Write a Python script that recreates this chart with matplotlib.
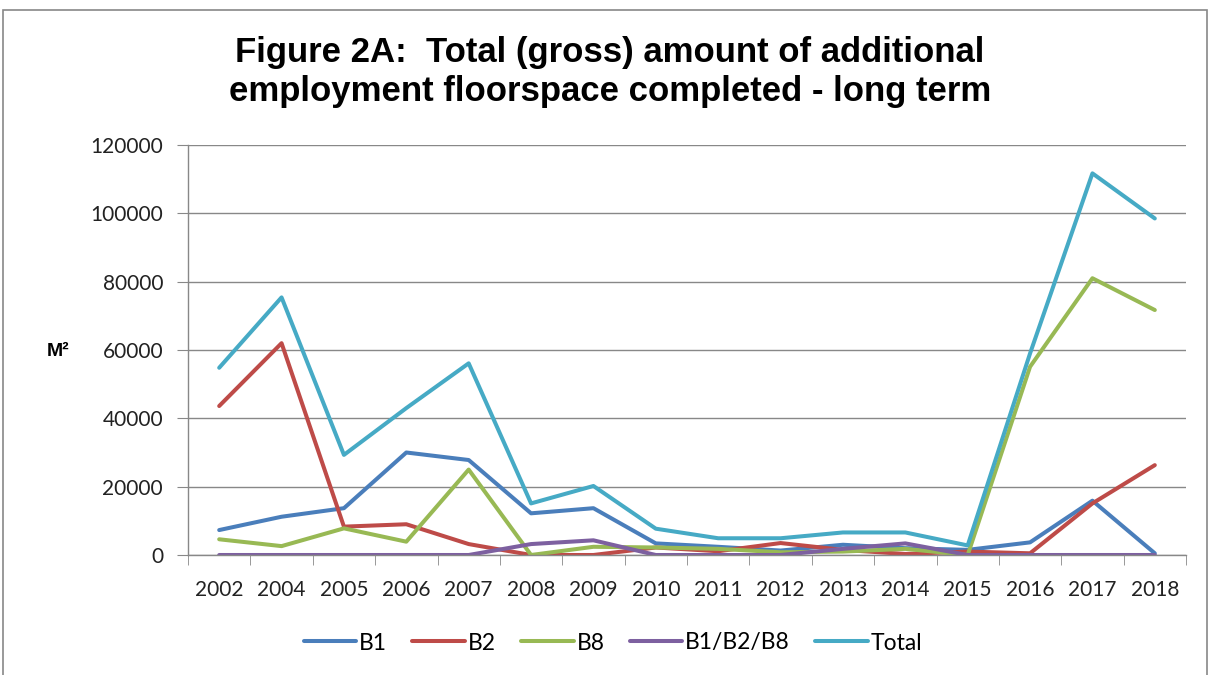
import numpy as np
import matplotlib
matplotlib.use('Agg')
import matplotlib.pyplot as plt
from matplotlib.patches import Rectangle

# data (m2)
years = ['2002', '2004', '2005', '2006', '2007', '2008', '2009', '2010',
         '2011', '2012', '2013', '2014', '2015', '2016', '2017', '2018']
b1 = [7300, 11200, 13700, 30000, 27800, 12200, 13700, 3400,
      2400, 1300, 3000, 2000, 1500, 3700, 15900, 500]
b2 = [43600, 62000, 8300, 9000, 3200, 0, 0, 2200,
      1100, 3500, 1500, 300, 1000, 500, 15100, 26300]
b8 = [4600, 2600, 7800, 3900, 25000, 0, 2400, 2200,
      1800, 800, 1000, 1800, 0, 55100, 81000, 71700]
b128 = [0, 0, 0, 0, 0, 3200, 4300, 0,
        0, 0, 1800, 3400, 0, 0, 0, 0]
total = [54800, 75400, 29300, 43000, 56100, 15100, 20200, 7700,
         4900, 4900, 6600, 6600, 2800, 59000, 111700, 98500]

series = [('B1', b1, '#4A7EBB'),
          ('B2', b2, '#BE4B48'),
          ('B8', b8, '#98B954'),
          ('B1/B2/B8', b128, '#7D60A0'),
          ('Total', total, '#46AAC5')]

fig = plt.figure(figsize=(12.13, 6.75), dpi=100)
ax = fig.add_axes([188/1213, 1-555/675, (1186-188)/1213, (555-145)/675])

x = np.arange(len(years))
for name, vals, col in series:
    ax.plot(x, vals, color=col, lw=2.9, label=name, solid_capstyle='round')

ax.set_xlim(-0.5, len(years) - 0.5)
ax.set_ylim(0, 120000)
ax.set_yticks(np.arange(0, 120001, 20000))
ax.grid(axis='y', color='#888888', lw=1)
ax.set_axisbelow(True)
for s in ['top', 'right']:
    ax.spines[s].set_visible(False)
for s in ['left', 'bottom']:
    ax.spines[s].set_color('#888888')
    ax.spines[s].set_linewidth(1)

ax.set_xticks(x)
ax.set_xticklabels(years)
ax.set_xticks(np.arange(-0.5, len(years)), minor=True)
ax.tick_params(axis='x', which='major', length=0, pad=18, labelsize=15, labelcolor='#222222')
ax.tick_params(axis='x', which='minor', length=7, color='#888888')
ax.tick_params(axis='y', length=8, color='#888888', pad=10, labelsize=15, labelcolor='#222222')
for lab in ax.get_xticklabels() + ax.get_yticklabels():
    lab.set_family('Lato')

fig.text(58/1213, 1-352/675, 'M²', fontsize=14, fontweight='bold',
         family='Liberation Sans', ha='center', va='center')

fig.suptitle('Figure 2A:  Total (gross) amount of additional\nemployment floorspace completed - long term',
             x=610/1213, y=1-72/675, va='center', fontsize=25, fontweight='bold',
             family='Liberation Sans', linespacing=1.2)

leg = fig.legend(loc='center', bbox_to_anchor=(613/1213, 1-643/675), ncol=5,
                 frameon=False, handlelength=2.3, columnspacing=1.1, handletextpad=0.12,
                 prop={'family': 'Lato', 'size': 16.5})

# outer chart border
fig.add_artist(Rectangle((3/1213, -0.01), 1204/1213, 1 - 10/675 + 0.01,
                         transform=fig.transFigure, fill=False,
                         edgecolor='#888888', lw=1.2))

fig.savefig('out.png', dpi=100)
